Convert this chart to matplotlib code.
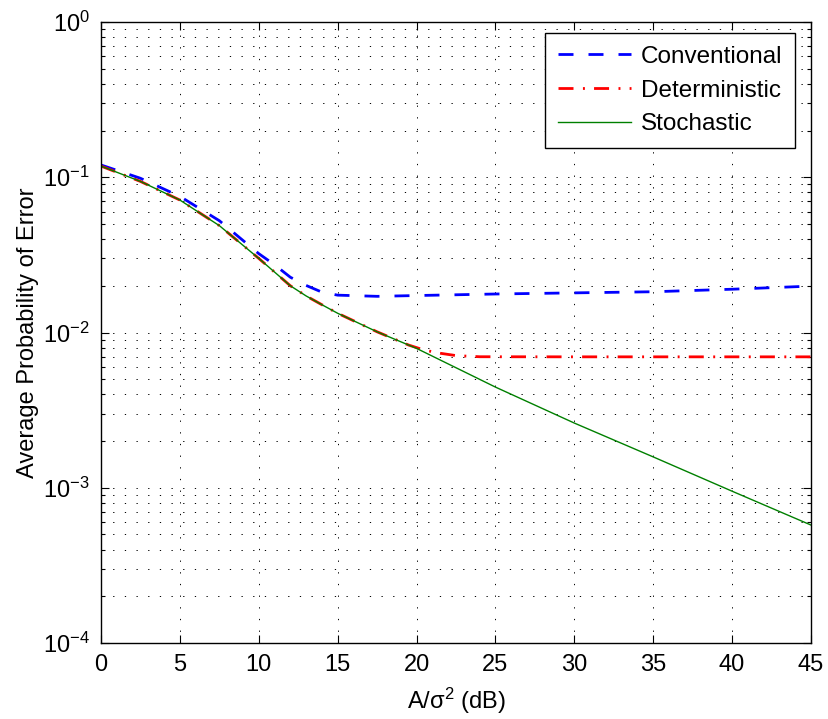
import matplotlib
matplotlib.use("Agg")
import matplotlib.pyplot as plt
from matplotlib.ticker import LogLocator, NullLocator, FixedLocator

plt.rcParams['font.family'] = ['Liberation Sans', 'DejaVu Sans']
plt.rcParams['mathtext.fontset'] = 'custom'
plt.rcParams['mathtext.rm'] = 'Liberation Sans'
plt.rcParams['mathtext.it'] = 'Liberation Sans:italic'
plt.rcParams['mathtext.bf'] = 'Liberation Sans:bold'

# ---- data ----
snr_conv = [0, 2.5, 5, 7.5, 10, 11, 12, 13, 14, 15, 17.5, 20, 25, 30, 35, 40, 45]
pe_conv = [0.120, 0.0985, 0.0753, 0.0525, 0.0322, 0.0273, 0.0227, 0.0201, 0.0182,
           0.0174, 0.0171, 0.0173, 0.0177, 0.0180, 0.0183, 0.0190, 0.0199]

snr_det = [0, 2.5, 5, 7.5, 10, 11, 12, 13, 14, 15, 17.5, 19.5, 20.5, 21.5, 22.5, 24, 30, 45]
pe_det = [0.118, 0.094, 0.0713, 0.0488, 0.0300, 0.0245, 0.0200, 0.0172, 0.0151,
          0.0133, 0.0101, 0.0083, 0.0077, 0.00735, 0.0071, 0.00698, 0.00697, 0.00697]

snr_sto = [0, 2.5, 5, 7.5, 10, 11, 12, 13, 14, 15, 17.5, 20, 25, 30, 35, 40, 45]
pe_sto = [0.118, 0.094, 0.0713, 0.0488, 0.0300, 0.0245, 0.0200, 0.0172, 0.0151,
          0.0133, 0.0101, 0.0079, 0.00445, 0.00261, 0.00158, 0.00095, 0.000575]

labels = ["Conventional", "Deterministic", "Stochastic"]
x_ticks = [0, 5, 10, 15, 20, 25, 30, 35, 40, 45]

fig = plt.figure(figsize=(8.29, 7.19), dpi=100)
ax = fig.add_axes([101/829, 1-643/719, 710/829, 621/719])

ax.plot(snr_conv, pe_conv, color=(0, 0, 1), lw=2.0, dashes=(5.4, 5.4), label=labels[0])
ax.plot(snr_det, pe_det, color=(1, 0, 0), lw=2.0, dashes=(5.4, 3.4, 0.7, 3.3), label=labels[1])
ax.plot(snr_sto, pe_sto, color=(0, 0.5, 0), lw=1.0, label=labels[2])

ax.set_yscale('log')
ax.set_xlim(0, 45)
ax.set_ylim(1e-4, 1)
ax.xaxis.set_major_locator(FixedLocator(x_ticks))
ax.xaxis.set_minor_locator(NullLocator())
ax.yaxis.set_major_locator(LogLocator(base=10, numticks=10))
ax.yaxis.set_minor_locator(LogLocator(base=10, subs=range(2, 10), numticks=20))

grid_style = (0, (1.3, 10.7))
ax.grid(True, which='major', axis='both', color='black', linestyle=grid_style, lw=0.7)
ax.grid(True, which='minor', axis='y', color='black', linestyle=grid_style, lw=0.7)

ax.tick_params(which='both', direction='in', top=True, right=True, labelsize=17, width=0.8)
ax.tick_params(which='major', length=6, pad=8)
ax.tick_params(which='minor', length=3)
for s in ax.spines.values():
    s.set_linewidth(1.0)

ax.set_xlabel('A/σ$^{2}$ (dB)', fontsize=17, labelpad=7)
ax.set_ylabel('Average Probability of Error', fontsize=17, labelpad=3)

leg = ax.legend(loc='upper right', bbox_to_anchor=((795-101)/710, (643-33)/621),
                fontsize=17.5, frameon=True, fancybox=False, framealpha=1,
                edgecolor='black', handlelength=3.0, handletextpad=0.4,
                labelspacing=0.48, borderpad=0.53, borderaxespad=0)
leg.get_frame().set_linewidth(1.0)

fig.savefig('out.png', dpi=100)
